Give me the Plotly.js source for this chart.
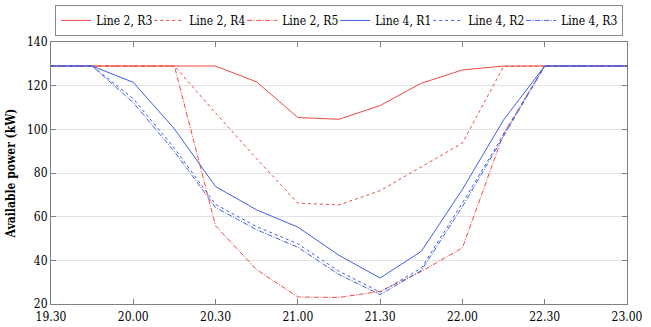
<!DOCTYPE html>
<html>
<head>
<meta charset="utf-8">
<script src="https://cdn.plot.ly/plotly-3.0.1.min.js"></script>
<style>
html,body{margin:0;padding:0;background:#fff;}
#chart{width:651px;height:327px;}
</style>
</head>
<body>
<div id="chart"></div>
<script>
const times = [19.5, 19.75, 20, 20.25, 20.5, 20.75, 21, 21.25, 21.5, 21.75, 22, 22.25, 22.5, 23];
const tickVals = [19.5, 20, 20.5, 21, 21.5, 22, 22.5, 23];
const tickText = ["19.30", "20.00", "20.30", "21.00", "21.30", "22.00", "22.30", "23.00"];

const line2R3 = [129, 129, 129, 129, 129, 121.7, 105.4, 104.6, 110.9, 121.1, 127.2, 129, 129, 129];
const line2R4 = [129, 129, 129, 129, 107.5, 86.5, 66.2, 65.4, 71.9, 82.9, 93.7, 128.8, 129, 129];
const line2R5 = [129, 129, 129, 129, 55.8, 35.7, 23.2, 23.0, 25.8, 34.9, 45.7, 98.0, 129, 129];
const line4R1 = [129, 129, 121.5, 100.2, 73.8, 63.1, 55.2, 42.3, 31.9, 44.1, 72.5, 104.3, 129, 129];
const line4R2 = [129, 129, 114.0, 91.3, 65.6, 55.4, 47.6, 35.0, 25.4, 36.4, 66.3, 97.9, 129, 129];
const line4R3 = [129, 129, 112.2, 89.8, 64.2, 54.0, 46.0, 33.5, 24.3, 35.3, 64.6, 96.5, 129, 129];

const RED = "#f2493f";
const BLUE = "#3f5fe6";
const FONT = "DejaVu Serif Condensed, DejaVu Serif, serif";

function tr(name, y, color, dash, lw) {
  return {x: times, y: y, name: name, type: "scatter", mode: "lines", legendwidth: lw,
          line: {color: color, width: 1, dash: dash}};
}

const data = [
  tr("Line 2, R3", line2R3, RED, "solid", 48),
  tr("Line 2, R4", line2R4, RED, "3px,3px", 48),
  tr("Line 2, R5", line2R5, RED, "5px,1.5px,1px,1.5px", 48),
  tr("Line 4, R1", line4R1, BLUE, "solid", 48),
  tr("Line 4, R2", line4R2, BLUE, "3px,3px", 48),
  tr("Line 4, R3", line4R3, BLUE, "5px,1.5px,1px,1.5px", 56)
];

const layout = {
  width: 651, height: 327,
  margin: {l: 51, r: 24, t: 42, b: 23, autoexpand: false},
  paper_bgcolor: "#fff", plot_bgcolor: "#fff",
  font: {family: FONT, size: 12, color: "#000"},
  showlegend: true,
  legend: {orientation: "h", xref: "container", x: 0.521, xanchor: "center",
           yref: "container", y: 0.985, yanchor: "top",
           bordercolor: "#888", borderwidth: 1, font: {family: FONT, size: 12},
           itemwidth: 30, tracegroupgap: 0},
  xaxis: {range: [19.5, 23], tickvals: tickVals, ticktext: tickText,
          showgrid: false, zeroline: false, showline: true, linecolor: "#808080", linewidth: 1,
          mirror: "ticks", ticks: "inside", ticklen: 5, tickcolor: "#808080",
          ticklabelstandoff: 2,
          tickfont: {family: FONT, size: 12}},
  yaxis: {range: [20, 140], dtick: 20, showgrid: true, gridcolor: "#e3e3e3", gridwidth: 1,
          zeroline: false, showline: true, linecolor: "#808080", linewidth: 1,
          mirror: "ticks", ticks: "inside", ticklen: 5, tickcolor: "#808080",
          tickfont: {family: FONT, size: 12},
          title: {text: "<b>Available power (kW)</b>", font: {family: FONT, size: 12}, standoff: 8}}
};

Plotly.newPlot("chart", data, layout, {displayModeBar: false, staticPlot: true});
</script>
</body>
</html>
